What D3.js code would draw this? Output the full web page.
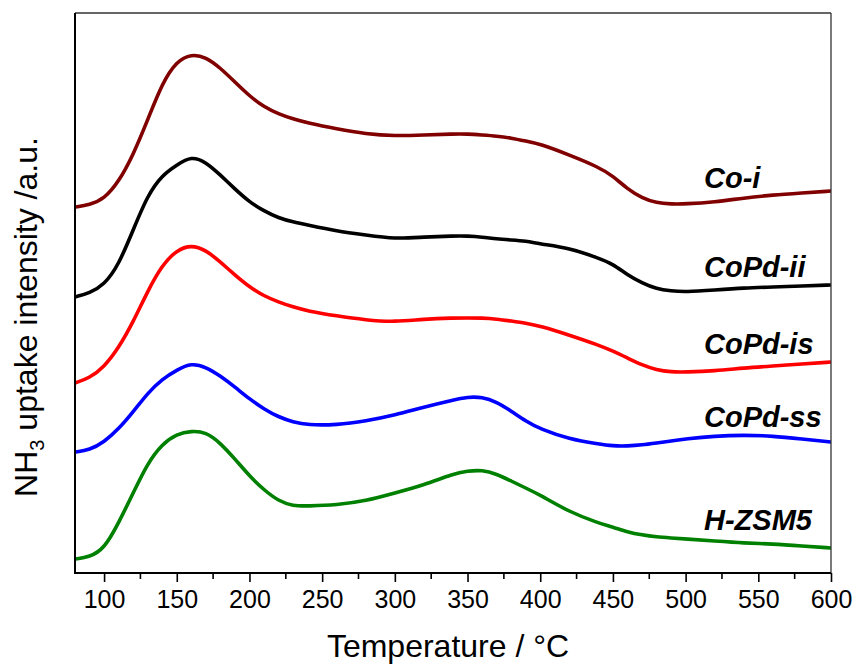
<!DOCTYPE html>
<html>
<head>
<meta charset="utf-8">
<script src="https://cdn.jsdelivr.net/npm/d3@7"></script>
<style>
  html, body { margin: 0; padding: 0; background: #fff; }
  svg { display: block; font-family: "Liberation Sans", Arial, sans-serif; }
</style>
</head>
<body>
<svg id="chart" width="859" height="668"></svg>
<script>
// NH3-TPD profiles, temperature in °C, intensity in arbitrary units (stacked offsets)
const temperatures = [80, 90, 100, 110, 120, 130, 140, 150, 160, 170, 180, 190, 200, 210, 220, 230, 240,
  260, 280, 300, 320, 340, 350, 360, 370, 380, 390, 400, 420, 440, 450, 460, 470, 480, 490, 500,
  520, 540, 560, 580, 600];

const coI = [366, 368, 374, 391, 418, 453, 490, 512, 519, 516, 505, 491, 477, 466, 459, 454, 450,
  444, 439, 437, 438, 439, 439, 438, 437, 435, 432, 429, 418, 406, 397, 384, 375, 370, 369, 369,
  371, 375, 378, 380, 382];

const coPdII = [276, 280, 288, 308, 343, 378, 398, 408, 417, 411, 398, 384, 371, 362, 355, 351, 348,
  342, 338, 334, 336, 337, 337, 336, 334, 333, 332, 329, 325, 315, 309, 298, 290, 284, 282, 281,
  283, 285, 286, 287, 288];

const coPdIS = [190, 195, 206, 225, 251, 282, 308, 323, 328, 323, 311, 298, 286, 277, 271, 266, 262,
  257, 253, 251, 254, 255, 255, 255, 254, 252, 250, 247, 238, 228, 222, 215, 208, 203, 201, 201,
  202, 205, 207, 209, 211];

const coPdSS = [121, 123, 131, 144, 161, 180, 194, 203, 210, 206, 197, 186, 174, 164, 156, 151, 148,
  148, 152, 158, 166, 173, 176, 176, 171, 162, 152, 144, 134, 129, 127, 127, 128, 130, 132, 134,
  137, 138, 137, 134, 131];

const hZSM5 = [14, 16, 24, 50, 80, 110, 129, 139, 142, 141, 130, 114, 97, 83, 72, 67, 67,
  68, 72, 80, 88, 99, 102, 103, 99, 92, 85, 78, 61, 50, 46, 41, 38, 36, 35, 34,
  32, 30, 29, 27, 25];

const seriesNames = ["Co-i", "CoPd-ii", "CoPd-is", "CoPd-ss", "H-ZSM5"];
const seriesValues = [coI, coPdII, coPdIS, coPdSS, hZSM5];
const seriesColors = ["#800000", "#000000", "#ff0000", "#0000ff", "#008000"];
// label baseline positions in data units
const labelLevels = [385, 296, 219, 146, 43];

const xTicks = [100, 150, 200, 250, 300, 350, 400, 450, 500, 550, 600];
const xMinorTicks = [125, 175, 225, 275, 325, 375, 425, 475, 525, 575];

const svg = d3.select("#chart");
const margin = { left: 75, right: 28, top: 13, bottom: 95 };
const W = 859, H = 668;
const plotL = margin.left, plotR = W - margin.right, plotT = margin.top, plotB = H - margin.bottom;

const x = d3.scaleLinear().domain([80, 600]).range([plotL, plotR]);
const y = d3.scaleLinear().domain([0, 560]).range([plotB, plotT]);

const line = d3.line()
  .x((d, i) => x(temperatures[i]))
  .y(d => y(d))
  .curve(d3.curveBasis);

svg.append("clipPath").attr("id", "plot-clip")
  .append("rect").attr("x", plotL).attr("y", plotT).attr("width", plotR - plotL).attr("height", plotB - plotT);

const curves = svg.append("g").attr("clip-path", "url(#plot-clip)");
seriesValues.forEach((vals, k) => {
  curves.append("path")
    .datum(vals)
    .attr("fill", "none")
    .attr("stroke", seriesColors[k])
    .attr("stroke-width", 3.6)
    .attr("stroke-linejoin", "round")
    .attr("stroke-linecap", "round")
    .attr("d", line);
});

// frame: top and right thin
svg.append("line").attr("x1", plotL).attr("x2", plotR).attr("y1", plotT).attr("y2", plotT)
  .attr("stroke", "#333").attr("stroke-width", 1.3);
svg.append("line").attr("x1", plotR).attr("x2", plotR).attr("y1", plotT).attr("y2", plotB)
  .attr("stroke", "#333").attr("stroke-width", 1.3);

// bottom axis
const xAxis = d3.axisBottom(x).tickValues(xTicks).tickSize(9).tickPadding(8).tickFormat(d3.format("d"));
const gx = svg.append("g").attr("transform", `translate(0,${plotB})`).call(xAxis);
gx.select(".domain").attr("stroke", "#000").attr("stroke-width", 2)
  .attr("d", `M${plotL},0H${plotR}`);
gx.selectAll(".tick line").attr("stroke", "#000").attr("stroke-width", 1.6);
gx.selectAll(".tick text").attr("fill", "#000").attr("font-size", 25)
  .attr("font-family", "'Liberation Sans', Arial, sans-serif");

const gxm = svg.append("g").attr("transform", `translate(0,${plotB})`);
gxm.selectAll("line").data(xMinorTicks).join("line")
  .attr("x1", d => x(d)).attr("x2", d => x(d)).attr("y1", 0).attr("y2", 6)
  .attr("stroke", "#000").attr("stroke-width", 1.6);

// left axis line (no ticks)
svg.append("line").attr("x1", plotL).attr("x2", plotL).attr("y1", plotT).attr("y2", plotB + 1)
  .attr("stroke", "#000").attr("stroke-width", 2);

// axis titles
svg.append("text")
  .attr("x", (plotL + plotR) / 2 - 5).attr("y", 657)
  .attr("text-anchor", "middle").attr("font-size", 32).attr("fill", "#000")
  .text("Temperature / °C");

const yt = svg.append("text")
  .attr("transform", `translate(37,${317}) rotate(-90)`)
  .attr("text-anchor", "middle").attr("font-size", 32).attr("fill", "#000");
yt.append("tspan").text("NH");
yt.append("tspan").attr("font-size", 20).attr("dy", 7).text("3");
yt.append("tspan").attr("dy", -7).text(" uptake intensity /a.u.");

// series labels
svg.append("g").selectAll("text").data(seriesNames).join("text")
  .attr("x", 704)
  .attr("y", (d, i) => y(labelLevels[i]))
  .attr("font-size", 29)
  .attr("font-weight", "bold")
  .attr("font-style", "italic")
  .attr("fill", "#000")
  .text(d => d);
</script>
</body>
</html>
